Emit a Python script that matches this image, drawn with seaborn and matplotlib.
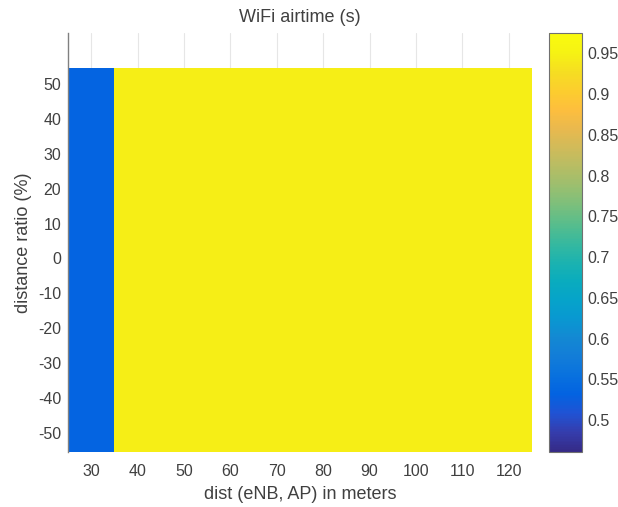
import numpy as np
import pandas as pd
import matplotlib
matplotlib.use("Agg")
import matplotlib.pyplot as plt
from matplotlib.colors import LinearSegmentedColormap
import seaborn as sns

# Grid of the sweep
dist_m = [30, 40, 50, 60, 70, 80, 90, 100, 110, 120]
ratio_pct = [50, 40, 30, 20, 10, 0, -10, -20, -30, -40, -50]
# WiFi airtime per distance (same value for every ratio)
airtime_by_dist = [0.535, 0.945, 0.945, 0.945, 0.945, 0.945, 0.945, 0.945, 0.945, 0.945]
clim = (0.461, 0.975)
cbar_ticks = [0.5, 0.55, 0.6, 0.65, 0.7, 0.75, 0.8, 0.85, 0.9, 0.95]

# parula colour map
parula_pts = [
    (0.2081, 0.1663, 0.5292), (0.2081, 0.2386, 0.6771), (0.1253, 0.3242, 0.8303),
    (0.0117, 0.3875, 0.8820), (0.0329, 0.4430, 0.8720), (0.0723, 0.4887, 0.8467),
    (0.0749, 0.5375, 0.8263), (0.0343, 0.5966, 0.8199), (0.0231, 0.6418, 0.7913),
    (0.0384, 0.6743, 0.7436), (0.1133, 0.7015, 0.6859), (0.2178, 0.7250, 0.6193),
    (0.3482, 0.7424, 0.5473), (0.4871, 0.7491, 0.4840), (0.6099, 0.7473, 0.4337),
    (0.7184, 0.7411, 0.3905), (0.8185, 0.7327, 0.3498), (0.9139, 0.7258, 0.3063),
    (0.9938, 0.7455, 0.2403), (0.9880, 0.8066, 0.1794), (0.9626, 0.8705, 0.1309),
    (0.9661, 0.9514, 0.0755), (0.9763, 0.9831, 0.0538),
]
parula = LinearSegmentedColormap.from_list("parula", parula_pts)

df = pd.DataFrame([airtime_by_dist for _ in ratio_pct], index=ratio_pct, columns=dist_m)

sns.set_style("white")
plt.rcParams["font.family"] = ["Liberation Sans", "DejaVu Sans"]
txt = "#404040"

fig = plt.figure(figsize=(6.18, 5.07), dpi=100)
ax = fig.add_axes([68 / 618, 1 - 452 / 507, 464 / 618, 419 / 507])
cax = fig.add_axes([549 / 618, 1 - 452 / 507, 33 / 618, 419 / 507])

sns.heatmap(df, ax=ax, cmap=parula, vmin=clim[0], vmax=clim[1], cbar_ax=cax,
            xticklabels=dist_m, yticklabels=ratio_pct, zorder=2)

# extend the view one cell above the data (white area with grid)
ax.set_ylim(len(ratio_pct), -1)
ax.set_xlim(0, len(dist_m))
ax.set_xticks(np.arange(len(dist_m)) + 0.5)
ax.set_xticklabels(dist_m, rotation=0)
ax.set_yticks(np.arange(len(ratio_pct)) + 0.5)
ax.set_yticklabels(ratio_pct, rotation=0)
ax.set_axisbelow(True)
ax.grid(axis="x", color="#e6e6e6", linewidth=0.8, zorder=0)
ax.grid(axis="y", visible=False)
for s in ["top", "right", "bottom"]:
    ax.spines[s].set_visible(False)
ax.spines["left"].set_visible(True)
ax.spines["left"].set_color("#808080")
ax.spines["left"].set_linewidth(1.0)
ax.tick_params(axis="x", length=0, labelsize=11.5, colors=txt, pad=9)
ax.tick_params(axis="y", length=0, labelsize=11.5, colors=txt, pad=5)
ax.set_xlabel("dist (eNB, AP) in meters", fontsize=13, color=txt, labelpad=5)
ax.set_ylabel("distance ratio (%)", fontsize=13, color=txt, labelpad=4)
ax.set_title("WiFi airtime (s)", fontsize=13, color=txt, pad=8)

cbar = ax.collections[0].colorbar
cbar.set_ticks(cbar_ticks)
cbar.set_ticklabels([f"{t:g}" for t in cbar_ticks])
cax.tick_params(labelsize=11.5, colors=txt, length=3, direction="in", width=1, pad=4)
cbar.outline.set_edgecolor("#707070")
cbar.outline.set_linewidth(0.8)
cbar.outline.set_visible(True)

fig.savefig("out.png", dpi=100, facecolor="white")
